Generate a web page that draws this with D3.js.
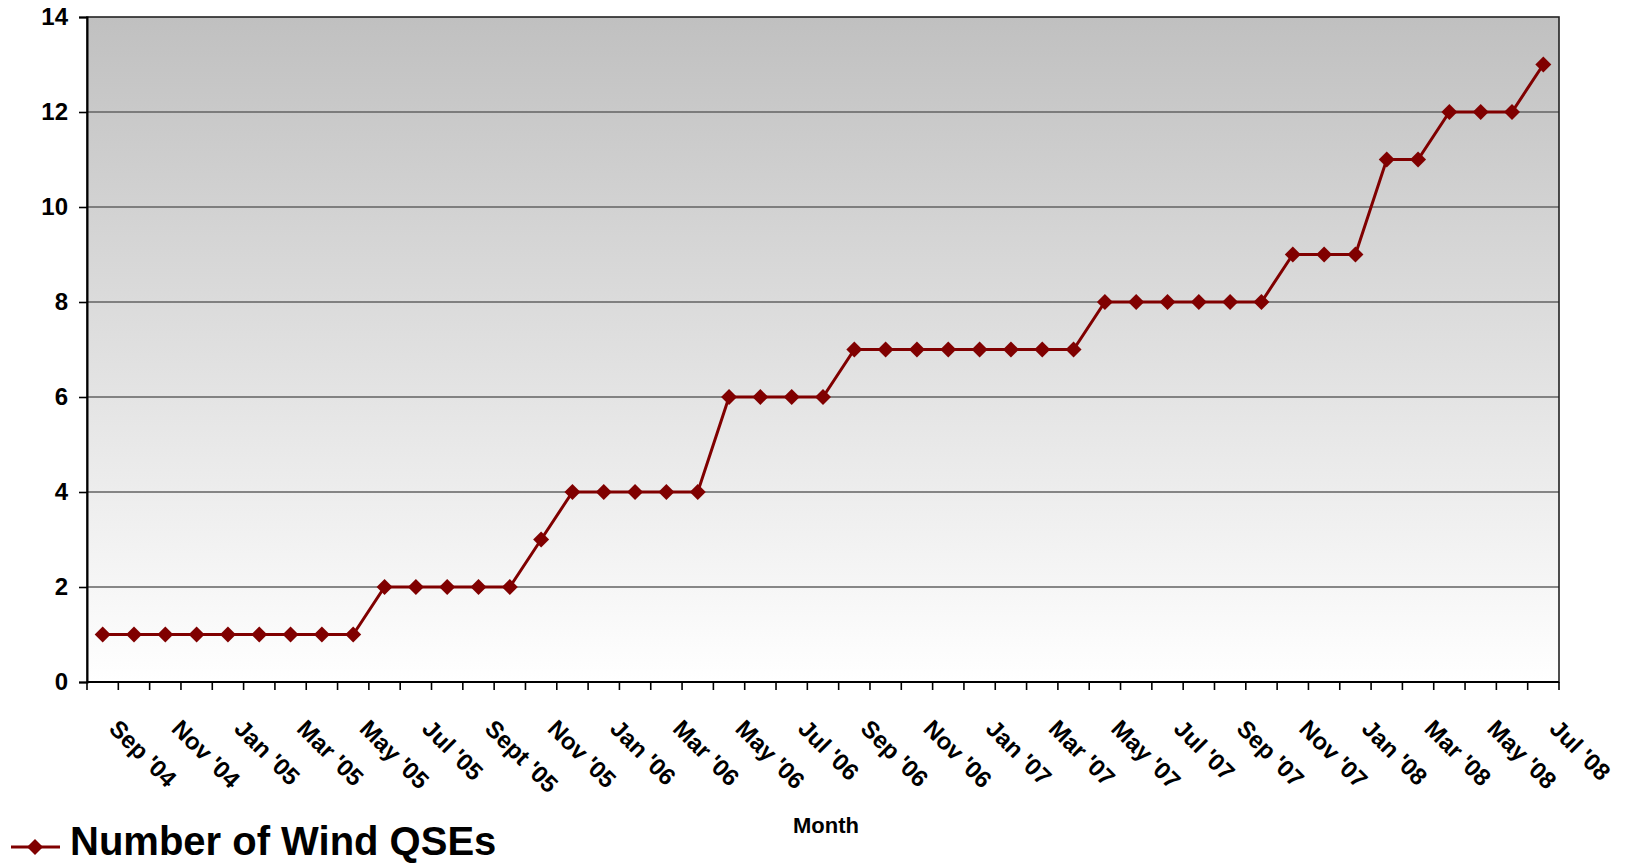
<!DOCTYPE html>
<html>
<head>
<meta charset="utf-8">
<script src="https://cdn.jsdelivr.net/npm/d3@7"></script>
<style>
  body { margin: 0; background: #fff; }
  svg { display: block; font-family: "Liberation Sans", Arial, sans-serif; font-weight: bold; }
</style>
</head>
<body>
<div id="chart"></div>
<script>
const MONTHS = [
  "Sep '04", "Oct '04", "Nov '04", "Dec '04", "Jan '05", "Feb '05", "Mar '05", "Apr '05",
  "May '05", "Jun '05", "Jul '05", "Aug '05", "Sept '05", "Oct '05", "Nov '05", "Dec '05",
  "Jan '06", "Feb '06", "Mar '06", "Apr '06", "May '06", "Jun '06", "Jul '06", "Aug '06",
  "Sep '06", "Oct '06", "Nov '06", "Dec '06", "Jan '07", "Feb '07", "Mar '07", "Apr '07",
  "May '07", "Jun '07", "Jul '07", "Aug '07", "Sep '07", "Oct '07", "Nov '07", "Dec '07",
  "Jan '08", "Feb '08", "Mar '08", "Apr '08", "May '08", "Jun '08", "Jul '08"
];
const WIND_QSES = [
  1, 1, 1, 1, 1, 1, 1, 1, 1,
  2, 2, 2, 2, 2,
  3,
  4, 4, 4, 4, 4,
  6, 6, 6, 6,
  7, 7, 7, 7, 7, 7, 7, 7,
  8, 8, 8, 8, 8, 8,
  9, 9, 9,
  11, 11,
  12, 12, 12,
  13
];
const Y_TICKS = [0, 2, 4, 6, 8, 10, 12, 14];
const SERIES_NAME = "Number of Wind QSEs";
const X_TITLE = "Month";

const WIDTH = 1627, HEIGHT = 865;
const PLOT = {left: 87, right: 1559, top: 17, bottom: 682};
const RED = "#800000";

const svg = d3.select("#chart").append("svg")
  .attr("width", WIDTH)
  .attr("height", HEIGHT);

const x = d3.scaleBand().domain(MONTHS).range([PLOT.left, PLOT.right]);
const y = d3.scaleLinear().domain([0, 14]).range([PLOT.bottom, PLOT.top]);

// plot background, grey at the top fading to white
const grad = svg.append("defs").append("linearGradient")
  .attr("id", "bg").attr("x1", 0).attr("y1", 0).attr("x2", 0).attr("y2", 1);
grad.append("stop").attr("offset", "0%").attr("stop-color", "#c0c0c0");
grad.append("stop").attr("offset", "100%").attr("stop-color", "#ffffff");

svg.append("rect")
  .attr("x", PLOT.left).attr("y", PLOT.top)
  .attr("width", PLOT.right - PLOT.left).attr("height", PLOT.bottom - PLOT.top)
  .attr("fill", "url(#bg)");

// gridlines
svg.append("g").selectAll("line")
  .data(Y_TICKS.filter((d) => d > 0 && d < 14))
  .enter().append("line")
  .attr("x1", PLOT.left).attr("x2", PLOT.right)
  .attr("y1", (d) => y(d)).attr("y2", (d) => y(d))
  .attr("stroke", "#626262").attr("stroke-width", 1.6);

// frame
svg.append("rect")
  .attr("x", PLOT.left).attr("y", PLOT.top)
  .attr("width", PLOT.right - PLOT.left).attr("height", PLOT.bottom - PLOT.top)
  .attr("fill", "none").attr("stroke", "#222").attr("stroke-width", 1.6);

// y axis
const yAxis = svg.append("g")
  .attr("transform", `translate(${PLOT.left},0)`)
  .call(d3.axisLeft(y).tickValues(Y_TICKS).tickSize(8).tickPadding(11));
yAxis.select(".domain").attr("stroke", "#000").attr("stroke-width", 2);
yAxis.selectAll(".tick line").attr("stroke", "#000").attr("stroke-width", 1.6);
yAxis.selectAll(".tick text")
  .attr("fill", "#000")
  .style("font-size", "24px")
  .style("font-family", "Liberation Sans, Arial, sans-serif")
  .style("font-weight", "bold");

// x axis line and ticks at category boundaries
svg.append("line")
  .attr("x1", PLOT.left).attr("x2", PLOT.right)
  .attr("y1", PLOT.bottom).attr("y2", PLOT.bottom)
  .attr("stroke", "#000").attr("stroke-width", 2);

const bounds = MONTHS.map((m) => x(m)).concat([PLOT.right]);
svg.append("g").selectAll("line")
  .data(bounds)
  .enter().append("line")
  .attr("x1", (d) => d).attr("x2", (d) => d)
  .attr("y1", PLOT.bottom).attr("y2", PLOT.bottom + 8)
  .attr("stroke", "#000").attr("stroke-width", 1.6);

// month labels, every other month, rotated
svg.append("g").selectAll("text")
  .data(MONTHS.filter((d, i) => i % 2 === 0))
  .enter().append("text")
  .attr("transform", (d) => `translate(${x(d) + x.bandwidth() / 2 + 5},730) rotate(45)`)
  .attr("text-anchor", "start")
  .style("font-size", "24px")
  .text((d) => d);

// axis title
svg.append("text")
  .attr("x", 826).attr("y", 833)
  .attr("text-anchor", "middle")
  .style("font-size", "22px")
  .text(X_TITLE);

// series
const cx = (i) => x(MONTHS[i]) + x.bandwidth() / 2;
const line = d3.line()
  .x((d, i) => cx(i))
  .y((d) => y(d));

svg.append("path")
  .datum(WIND_QSES)
  .attr("d", line)
  .attr("fill", "none")
  .attr("stroke", RED)
  .attr("stroke-width", 3);

const diamond = (r) => `M0,${-r}L${r},0L0,${r}L${-r},0Z`;
svg.append("g").selectAll("path")
  .data(WIND_QSES)
  .enter().append("path")
  .attr("d", diamond(8))
  .attr("transform", (d, i) => `translate(${cx(i)},${y(d)})`)
  .attr("fill", RED);

// legend
const legend = svg.append("g");
legend.append("line")
  .attr("x1", 11).attr("x2", 60).attr("y1", 847).attr("y2", 847)
  .attr("stroke", RED).attr("stroke-width", 3);
legend.append("path")
  .attr("d", diamond(8))
  .attr("transform", "translate(35,847)")
  .attr("fill", RED);
legend.append("text")
  .attr("x", 70).attr("y", 855)
  .style("font-size", "40px")
  .text(SERIES_NAME);
</script>
</body>
</html>
